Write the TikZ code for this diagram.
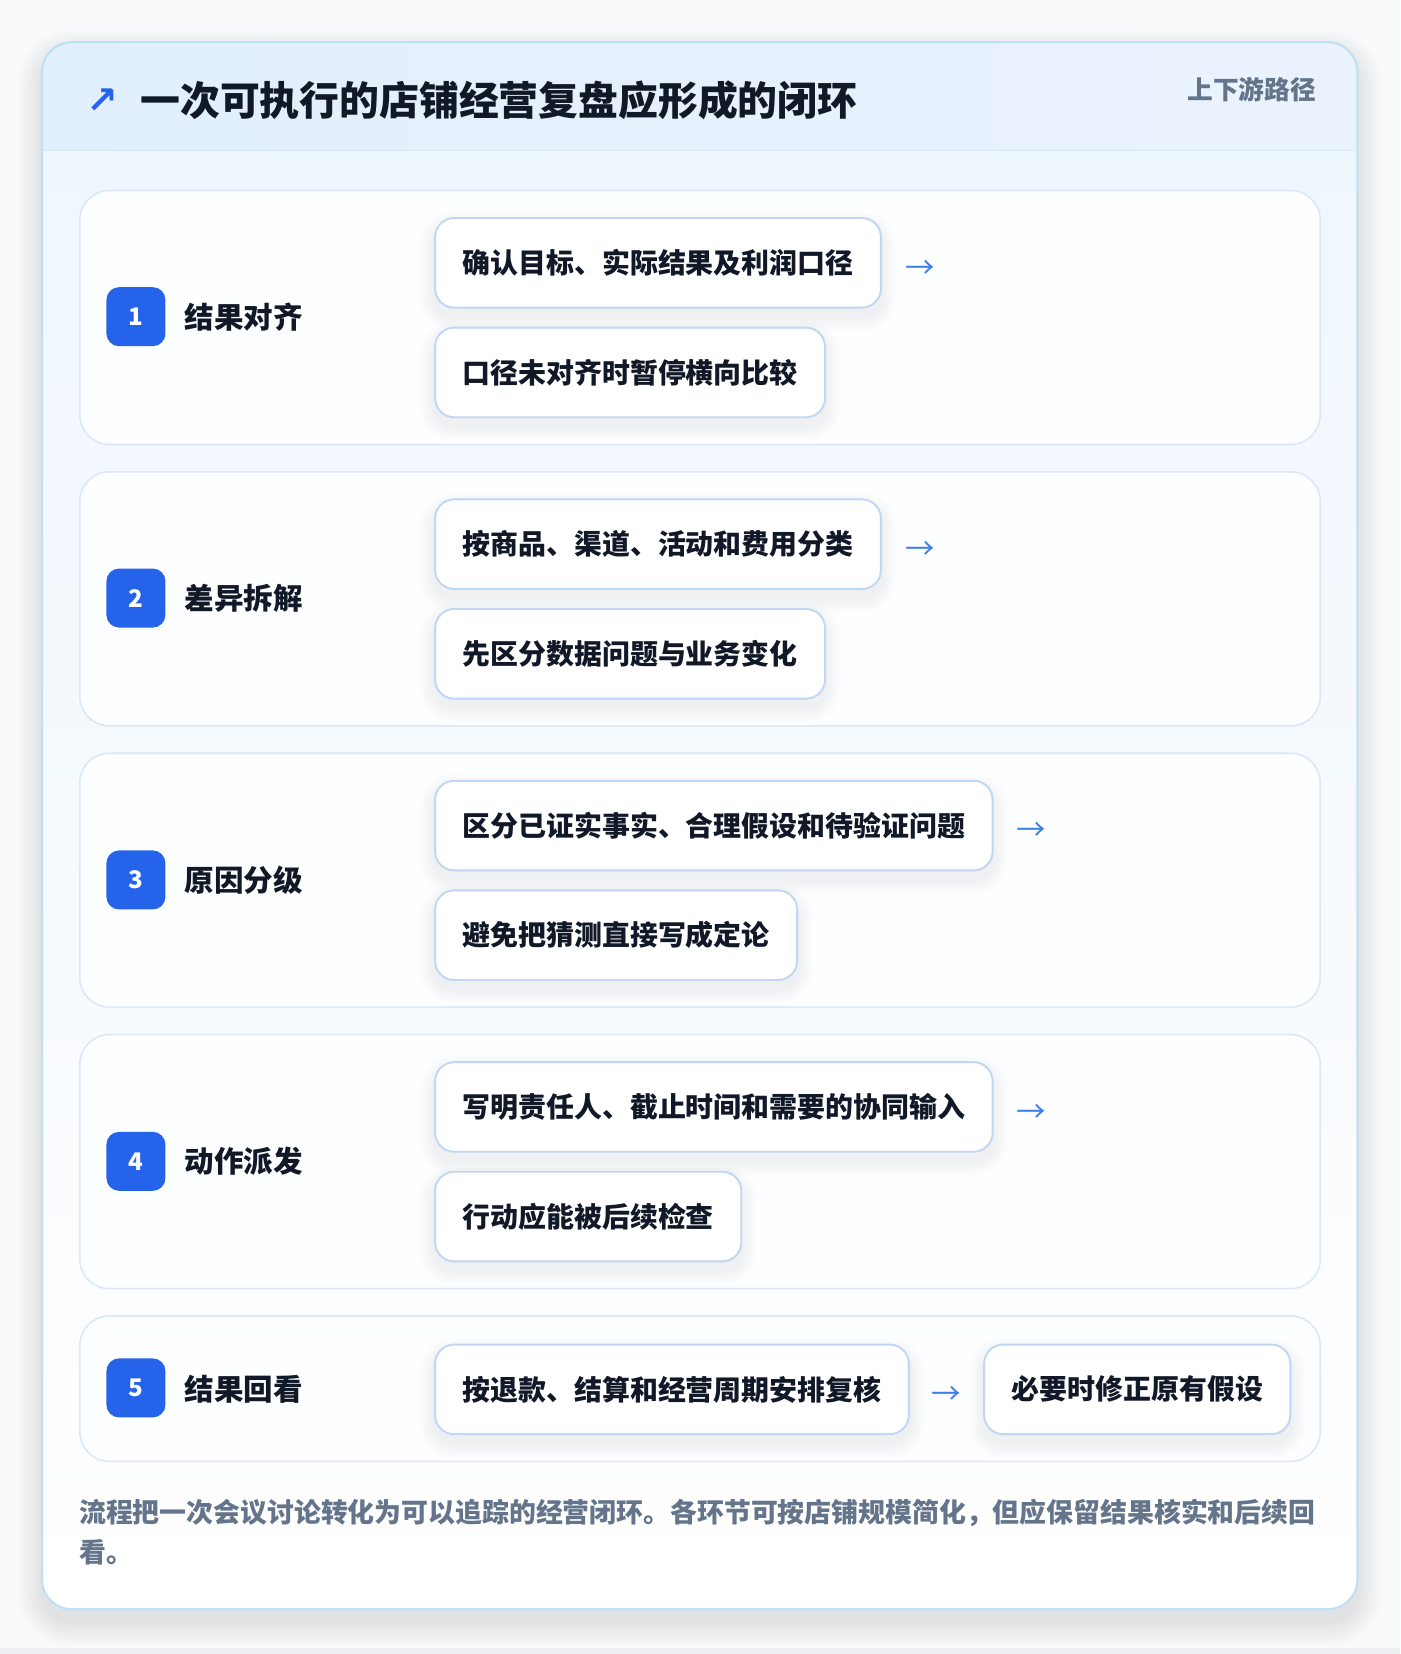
\documentclass[tikz,border=0pt]{standalone}
\usepackage{fontspec}
\setmainfont{Noto Sans CJK SC}
\newfontfamily\symfont{DejaVu Sans}
\usetikzlibrary{calc}
\pgfdeclarelayer{bg}
\pgfdeclarelayer{shadow}
\pgfsetlayers{bg,shadow,main}
\definecolor{pagebg}{HTML}{F9FAFB}
\definecolor{pagestrip}{HTML}{EDEFF2}
\definecolor{cardtop}{HTML}{EEF6FE}
\definecolor{cardmid}{HTML}{F6FAFE}
\definecolor{cardborder}{HTML}{BEE0F6}
\definecolor{hdrL}{HTML}{E1EFFC}
\definecolor{hdrR}{HTML}{EAF2FD}
\definecolor{hdrline}{HTML}{D6E8F9}
\definecolor{rowborder}{HTML}{DAE8FA}
\definecolor{rowfill}{HTML}{FDFEFF}
\definecolor{boxborder}{HTML}{BFD6F5}
\definecolor{badgeblue}{HTML}{2563EB}
\definecolor{arrowblue}{HTML}{3B7DE9}
\definecolor{ink}{HTML}{111827}
\definecolor{slate}{HTML}{64748B}
\definecolor{shadowcol}{HTML}{1E293B}
\tikzset{
  rowcard/.style={draw=rowborder, line width=1.5pt, fill=rowfill, rounded corners=28pt,
    minimum width=1177pt, inner sep=0pt, anchor=north west},
  badge/.style={fill=badgeblue, rounded corners=12pt, minimum width=56pt, minimum height=56pt,
    inner sep=0pt, text=white, font=\bfseries\fontsize{23}{23}\selectfont},
  steplabel/.style={anchor=west, inner sep=0pt, text=ink, font=\bfseries\fontsize{28}{28}\selectfont},
  itembox/.style={draw=boxborder, line width=1.8pt, fill=white, rounded corners=18pt,
    minimum height=85pt, inner xsep=26pt, inner ysep=0pt, anchor=north west, text=ink,
    font=\bfseries\fontsize{26.5}{26.5}\selectfont},
  arrowglyph/.style={inner sep=0pt, text=arrowblue, font=\fontsize{28}{28}\selectfont},
  softshadow/.style={fill=shadowcol, opacity=0.005},
}
\newcommand{\boxshadow}[1]{%
  \begin{pgfonlayer}{shadow}
  \foreach \k in {1,...,14}{
    \fill[softshadow, rounded corners=18pt+\k pt]
      ([xshift=-\k pt, yshift=\k pt-8pt]#1.north west) rectangle ([xshift=\k pt, yshift=-\k pt-8pt]#1.south east);
  }
  \end{pgfonlayer}}
\begin{document}
\begin{tikzpicture}[x=1pt,y=-1pt]
\useasboundingbox (0,0) rectangle (1328.5,1569.5);
\begin{pgfonlayer}{bg}
\fill[pagebg] (0,0) rectangle (1328.5,1569.5);
\fill[pagestrip] (0,1564) rectangle (1328.5,1569.5);
% outer card shadow
\foreach \k in {1,...,24}{
  \fill[fill=shadowcol, opacity=0.0045, rounded corners=28pt+\k pt]
    (40-\k,40-\k+12) rectangle (1288+\k,1527+\k+12);
}
\fill[white, rounded corners=28pt] (40,40) rectangle (1288,1527);
\shade[rounded corners=28pt, top color=cardtop, bottom color=white, middle color=cardmid]
  (40,40) rectangle (1288,1527);
\begin{scope}
  \clip[rounded corners=28pt] (40,40) rectangle (1288,1527);
  \shade[left color=hdrL, right color=hdrR] (40,40) rectangle (1288,143);
\end{scope}
\draw[hdrline, line width=1.5pt] (40,143) -- (1288,143);
\draw[cardborder, line width=2pt, rounded corners=28pt] (40,40) rectangle (1288,1527);
% row cards
\node[rowcard, minimum height=241pt] (r1) at (75,180) {};
\node[rowcard, minimum height=241pt] (r2) at (75,447) {};
\node[rowcard, minimum height=241pt] (r3) at (75,714) {};
\node[rowcard, minimum height=241pt] (r4) at (75,981) {};
\node[rowcard, minimum height=138pt] (r5) at (75,1248) {};
\end{pgfonlayer}
% header
\node[inner sep=0pt, text=badgeblue, font=\symfont\bfseries\fontsize{36}{36}\selectfont] (ticon) at (97,96) {↗};
\node[anchor=west, inner sep=0pt, text=ink, font=\bfseries\fontsize{37.8}{37.8}\selectfont] (title) at (133,95) {一次可执行的店铺经营复盘应形成的闭环};
\node[anchor=east, inner sep=0pt, text=slate, font=\bfseries\fontsize{24.4}{24.4}\selectfont] (tag) at (1249,85) {上下游路径};
% row 1
\node[badge] (b1) at (129,300.5) {1};
\node[steplabel] (l1) at (175,300.5) {结果对齐};
\node[itembox] (i1a) at (412,206) {确认目标、实际结果及利润口径};
\node[itembox] (i1b) at (412,310) {口径未对齐时暂停横向比较};
\node[arrowglyph, anchor=west] (a1) at ([xshift=22pt, yshift=-6pt]i1a.east) {→};
% row 2
\node[badge] (b2) at (129,567.5) {2};
\node[steplabel] (l2) at (175,567.5) {差异拆解};
\node[itembox] (i2a) at (412,473) {按商品、渠道、活动和费用分类};
\node[itembox] (i2b) at (412,577) {先区分数据问题与业务变化};
\node[arrowglyph, anchor=west] (a2) at ([xshift=22pt, yshift=-6pt]i2a.east) {→};
% row 3
\node[badge] (b3) at (129,835) {3};
\node[steplabel] (l3) at (175,835) {原因分级};
\node[itembox] (i3a) at (412,740) {区分已证实事实、合理假设和待验证问题};
\node[itembox] (i3b) at (412,844) {避免把猜测直接写成定论};
\node[arrowglyph, anchor=west] (a3) at ([xshift=22pt, yshift=-6pt]i3a.east) {→};
% row 4
\node[badge] (b4) at (129,1102) {4};
\node[steplabel] (l4) at (175,1102) {动作派发};
\node[itembox] (i4a) at (412,1007) {写明责任人、截止时间和需要的协同输入};
\node[itembox] (i4b) at (412,1111) {行动应能被后续检查};
\node[arrowglyph, anchor=west] (a4) at ([xshift=22pt, yshift=-6pt]i4a.east) {→};
% row 5
\node[badge] (b5) at (129,1317) {5};
\node[steplabel] (l5) at (175,1318) {结果回看};
\node[itembox] (i5a) at (412,1275) {按退款、结算和经营周期安排复核};
\node[itembox] (i5b) at (933,1275) {必要时修正原有假设};
\coordinate (m5) at ($(i5a.east)!0.5!(i5b.west)$);
\node[arrowglyph] (a5) at ([yshift=-6pt]m5) {→};
% shadows of item boxes
\boxshadow{i1a}\boxshadow{i1b}\boxshadow{i2a}\boxshadow{i2b}\boxshadow{i3a}
\boxshadow{i3b}\boxshadow{i4a}\boxshadow{i4b}\boxshadow{i5a}\boxshadow{i5b}
% footer
\node[anchor=north west, inner sep=0pt, align=left, text=slate,
  font=\bfseries\fontsize{25.5}{38}\selectfont] (foot) at (75,1422)
  {流程把一次会议讨论转化为可以追踪的经营闭环。各环节可按店铺规模简化，但应保留结果核实和后续回\\看。};
\end{tikzpicture}
\end{document}
